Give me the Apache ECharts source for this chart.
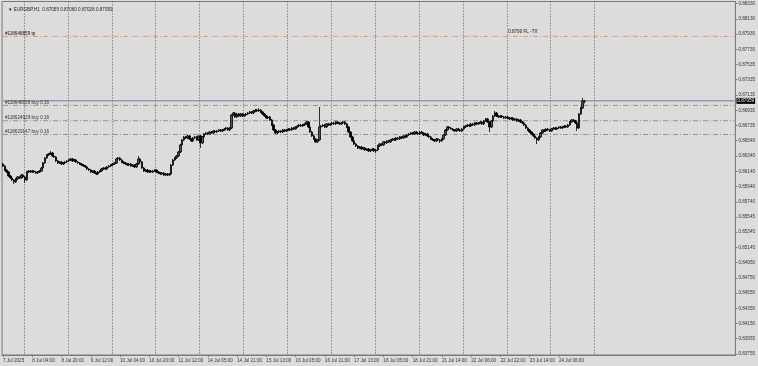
<!DOCTYPE html>
<html><head><meta charset="utf-8">
<script src="https://cdn.jsdelivr.net/npm/echarts@6/dist/echarts.min.js"></script>
<style>html,body{margin:0;padding:0;background:#dcdcdc;}#c{width:758px;height:366px;}</style>
</head><body><div id="c"></div>
<script>
const symbolTitle = "▼ EURGBP,H1  0.87055 0.87060 0.87026 0.87059";
const xTickLabels = ["7 Jul 2025","8 Jul 04:00","8 Jul 20:00","9 Jul 12:00","10 Jul 04:00","10 Jul 20:00","11 Jul 12:00","14 Jul 05:00","14 Jul 21:00","15 Jul 13:00","16 Jul 05:00","16 Jul 21:00","17 Jul 13:00","18 Jul 05:00","18 Jul 21:00","21 Jul 14:00","22 Jul 06:00","22 Jul 22:00","23 Jul 14:00","24 Jul 06:00"];
const yTickLabels = ["0.88330","0.88130","0.87930","0.87730","0.87535","0.87335","0.87135","0.86935","0.86735","0.86540","0.86340","0.86140","0.85940","0.85740","0.85545","0.85345","0.85145","0.84950","0.84750","0.84550","0.84350","0.84150","0.83955","0.83755"];
const totalSlots = 401;
const opens = [
0.86235,0.86209,0.86157,0.86131,0.86079,0.86053,0.86027,0.86001,0.86040,0.86066,
0.86053,0.86092,0.86066,0.86027,0.86131,0.86144,0.86131,0.86144,0.86131,0.86118,
0.86131,0.86144,0.86183,0.86249,0.86314,0.86353,0.86366,0.86379,0.86340,0.86327,
0.86275,0.86249,0.86262,0.86235,0.86249,0.86262,0.86275,0.86288,0.86301,0.86275,
0.86288,0.86262,0.86249,0.86235,0.86222,0.86209,0.86196,0.86170,0.86157,0.86131,
0.86144,0.86118,0.86105,0.86131,0.86144,0.86170,0.86183,0.86170,0.86196,0.86209,
0.86222,0.86235,0.86249,0.86301,0.86314,0.86288,0.86262,0.86249,0.86235,0.86222,
0.86235,0.86209,0.86222,0.86196,0.86235,0.86301,0.86262,0.86183,0.86144,0.86157,
0.86131,0.86144,0.86131,0.86144,0.86157,0.86131,0.86118,0.86105,0.86118,0.86092,
0.86105,0.86092,0.86105,0.86222,0.86288,0.86314,0.86340,0.86392,0.86483,0.86549,
0.86588,0.86575,0.86601,0.86562,0.86536,0.86575,0.86588,0.86549,0.86601,0.86510,
0.86588,0.86627,0.86640,0.86627,0.86653,0.86640,0.86666,0.86653,0.86666,0.86679,
0.86666,0.86679,0.86692,0.86705,0.86679,0.86705,0.86875,0.86901,0.86849,0.86888,
0.86862,0.86888,0.86862,0.86875,0.86888,0.86901,0.86914,0.86901,0.86927,0.86940,
0.86927,0.86940,0.86914,0.86888,0.86862,0.86836,0.86849,0.86810,0.86744,0.86679,
0.86640,0.86653,0.86666,0.86653,0.86679,0.86666,0.86679,0.86692,0.86679,0.86705,
0.86692,0.86718,0.86731,0.86744,0.86731,0.86744,0.86758,0.86784,0.86718,0.86653,
0.86601,0.86562,0.86523,0.86549,0.86718,0.86731,0.86744,0.86718,0.86758,0.86744,
0.86758,0.86771,0.86758,0.86784,0.86771,0.86758,0.86771,0.86784,0.86758,0.86718,
0.86653,0.86588,0.86536,0.86496,0.86470,0.86444,0.86457,0.86431,0.86444,0.86418,
0.86431,0.86405,0.86418,0.86431,0.86405,0.86418,0.86470,0.86496,0.86483,0.86523,
0.86510,0.86536,0.86523,0.86549,0.86562,0.86549,0.86575,0.86562,0.86588,0.86575,
0.86601,0.86588,0.86614,0.86627,0.86640,0.86627,0.86653,0.86640,0.86627,0.86653,
0.86640,0.86614,0.86627,0.86601,0.86588,0.86562,0.86549,0.86536,0.86562,0.86549,
0.86536,0.86562,0.86614,0.86679,0.86718,0.86705,0.86692,0.86679,0.86666,0.86692,
0.86679,0.86666,0.86692,0.86718,0.86731,0.86744,0.86731,0.86758,0.86744,0.86771,
0.86758,0.86771,0.86784,0.86758,0.86797,0.86823,0.86784,0.86718,0.86797,0.86862,
0.86901,0.86862,0.86849,0.86862,0.86849,0.86836,0.86849,0.86836,0.86823,0.86836,
0.86810,0.86823,0.86797,0.86810,0.86784,0.86771,0.86744,0.86705,0.86679,0.86653,
0.86627,0.86601,0.86575,0.86549,0.86588,0.86640,0.86679,0.86666,0.86692,0.86679,
0.86666,0.86692,0.86705,0.86692,0.86705,0.86718,0.86705,0.86718,0.86731,0.86718,
0.86744,0.86784,0.86810,0.86797,0.86771,0.86705,0.86888,0.86966,0.87055];
const closes = [
0.86209,0.86157,0.86131,0.86079,0.86053,0.86027,0.86001,0.86040,0.86066,0.86053,
0.86092,0.86066,0.86027,0.86131,0.86144,0.86131,0.86144,0.86131,0.86118,0.86131,
0.86144,0.86183,0.86249,0.86314,0.86353,0.86366,0.86379,0.86340,0.86327,0.86275,
0.86249,0.86262,0.86235,0.86249,0.86262,0.86275,0.86288,0.86301,0.86275,0.86288,
0.86262,0.86249,0.86235,0.86222,0.86209,0.86196,0.86170,0.86157,0.86131,0.86144,
0.86118,0.86105,0.86131,0.86144,0.86170,0.86183,0.86170,0.86196,0.86209,0.86222,
0.86235,0.86249,0.86301,0.86314,0.86288,0.86262,0.86249,0.86235,0.86222,0.86235,
0.86209,0.86222,0.86196,0.86235,0.86301,0.86262,0.86183,0.86144,0.86157,0.86131,
0.86144,0.86131,0.86144,0.86157,0.86131,0.86118,0.86105,0.86118,0.86092,0.86105,
0.86092,0.86105,0.86222,0.86288,0.86314,0.86340,0.86392,0.86483,0.86549,0.86588,
0.86575,0.86601,0.86562,0.86536,0.86575,0.86588,0.86549,0.86601,0.86510,0.86588,
0.86627,0.86640,0.86627,0.86653,0.86640,0.86666,0.86653,0.86666,0.86679,0.86666,
0.86679,0.86692,0.86705,0.86679,0.86705,0.86875,0.86901,0.86849,0.86888,0.86862,
0.86888,0.86862,0.86875,0.86888,0.86901,0.86914,0.86901,0.86927,0.86940,0.86927,
0.86940,0.86914,0.86888,0.86862,0.86836,0.86849,0.86810,0.86744,0.86679,0.86640,
0.86653,0.86666,0.86653,0.86679,0.86666,0.86679,0.86692,0.86679,0.86705,0.86692,
0.86718,0.86731,0.86744,0.86731,0.86744,0.86758,0.86784,0.86718,0.86653,0.86601,
0.86562,0.86523,0.86549,0.86718,0.86731,0.86744,0.86718,0.86758,0.86744,0.86758,
0.86771,0.86758,0.86784,0.86771,0.86758,0.86771,0.86784,0.86758,0.86718,0.86653,
0.86588,0.86536,0.86496,0.86470,0.86444,0.86457,0.86431,0.86444,0.86418,0.86431,
0.86405,0.86418,0.86431,0.86405,0.86418,0.86470,0.86496,0.86483,0.86523,0.86510,
0.86536,0.86523,0.86549,0.86562,0.86549,0.86575,0.86562,0.86588,0.86575,0.86601,
0.86588,0.86614,0.86627,0.86640,0.86627,0.86653,0.86640,0.86627,0.86653,0.86640,
0.86614,0.86627,0.86601,0.86588,0.86562,0.86549,0.86536,0.86562,0.86549,0.86536,
0.86562,0.86614,0.86679,0.86718,0.86705,0.86692,0.86679,0.86666,0.86692,0.86679,
0.86666,0.86692,0.86718,0.86731,0.86744,0.86731,0.86758,0.86744,0.86771,0.86758,
0.86771,0.86784,0.86758,0.86797,0.86823,0.86784,0.86718,0.86797,0.86862,0.86901,
0.86862,0.86849,0.86862,0.86849,0.86836,0.86849,0.86836,0.86823,0.86836,0.86810,
0.86823,0.86797,0.86810,0.86784,0.86771,0.86744,0.86705,0.86679,0.86653,0.86627,
0.86601,0.86575,0.86549,0.86588,0.86640,0.86679,0.86666,0.86692,0.86679,0.86666,
0.86692,0.86705,0.86692,0.86705,0.86718,0.86705,0.86718,0.86731,0.86718,0.86744,
0.86784,0.86810,0.86797,0.86771,0.86705,0.86888,0.86966,0.87055,0.87059];
const highs = [
0.86249,0.86222,0.86170,0.86144,0.86092,0.86066,0.86040,0.86053,0.86079,0.86079,
0.86105,0.86105,0.86079,0.86144,0.86157,0.86157,0.86157,0.86157,0.86144,0.86144,
0.86157,0.86196,0.86262,0.86327,0.86366,0.86379,0.86405,0.86392,0.86353,0.86340,
0.86288,0.86275,0.86275,0.86262,0.86275,0.86288,0.86301,0.86314,0.86314,0.86301,
0.86301,0.86275,0.86262,0.86249,0.86235,0.86222,0.86209,0.86183,0.86170,0.86157,
0.86157,0.86131,0.86144,0.86157,0.86183,0.86196,0.86196,0.86209,0.86222,0.86235,
0.86249,0.86262,0.86314,0.86327,0.86327,0.86301,0.86275,0.86262,0.86249,0.86249,
0.86249,0.86235,0.86235,0.86249,0.86340,0.86314,0.86275,0.86196,0.86170,0.86170,
0.86157,0.86157,0.86157,0.86170,0.86170,0.86144,0.86131,0.86131,0.86131,0.86118,
0.86118,0.86118,0.86235,0.86301,0.86327,0.86353,0.86405,0.86496,0.86562,0.86601,
0.86601,0.86614,0.86614,0.86575,0.86588,0.86601,0.86601,0.86614,0.86614,0.86601,
0.86640,0.86653,0.86653,0.86666,0.86666,0.86679,0.86679,0.86679,0.86692,0.86692,
0.86692,0.86705,0.86718,0.86718,0.86718,0.86888,0.86914,0.86914,0.86901,0.86901,
0.86901,0.86901,0.86888,0.86901,0.86914,0.86927,0.86927,0.86940,0.86953,0.86953,
0.86966,0.86953,0.86927,0.86901,0.86875,0.86862,0.86862,0.86823,0.86758,0.86692,
0.86666,0.86679,0.86679,0.86692,0.86692,0.86692,0.86705,0.86705,0.86718,0.86718,
0.86731,0.86744,0.86758,0.86758,0.86758,0.86771,0.86797,0.86797,0.86731,0.86666,
0.86614,0.86575,0.86562,0.86979,0.86744,0.86758,0.86758,0.86771,0.86771,0.86771,
0.86784,0.86784,0.86797,0.86797,0.86784,0.86784,0.86797,0.86797,0.86771,0.86731,
0.86666,0.86601,0.86549,0.86510,0.86483,0.86470,0.86470,0.86457,0.86457,0.86444,
0.86444,0.86431,0.86444,0.86444,0.86431,0.86483,0.86510,0.86510,0.86536,0.86536,
0.86549,0.86549,0.86562,0.86575,0.86575,0.86588,0.86588,0.86601,0.86601,0.86614,
0.86614,0.86627,0.86640,0.86653,0.86653,0.86666,0.86666,0.86653,0.86666,0.86666,
0.86653,0.86640,0.86640,0.86614,0.86601,0.86575,0.86562,0.86575,0.86575,0.86562,
0.86575,0.86627,0.86692,0.86731,0.86731,0.86718,0.86705,0.86692,0.86705,0.86705,
0.86692,0.86705,0.86731,0.86744,0.86758,0.86758,0.86771,0.86771,0.86784,0.86784,
0.86784,0.86797,0.86797,0.86810,0.86836,0.86836,0.86797,0.86810,0.86875,0.86927,
0.86914,0.86875,0.86875,0.86875,0.86862,0.86862,0.86862,0.86849,0.86849,0.86849,
0.86836,0.86836,0.86823,0.86823,0.86797,0.86784,0.86758,0.86718,0.86692,0.86666,
0.86640,0.86614,0.86588,0.86601,0.86653,0.86692,0.86692,0.86705,0.86705,0.86692,
0.86705,0.86718,0.86718,0.86718,0.86731,0.86731,0.86731,0.86744,0.86744,0.86758,
0.86797,0.86823,0.86823,0.86810,0.86784,0.86901,0.86979,0.87097,0.87060];
const lows = [
0.86196,0.86144,0.86118,0.86066,0.86040,0.86014,0.85974,0.85987,0.86027,0.86040,
0.86040,0.86053,0.85987,0.86014,0.86118,0.86118,0.86118,0.86118,0.86105,0.86105,
0.86118,0.86131,0.86170,0.86235,0.86301,0.86340,0.86353,0.86327,0.86314,0.86262,
0.86235,0.86235,0.86222,0.86222,0.86235,0.86249,0.86262,0.86275,0.86262,0.86262,
0.86249,0.86235,0.86222,0.86209,0.86196,0.86183,0.86157,0.86144,0.86118,0.86118,
0.86105,0.86092,0.86092,0.86118,0.86131,0.86157,0.86157,0.86157,0.86183,0.86196,
0.86209,0.86222,0.86235,0.86288,0.86275,0.86249,0.86235,0.86222,0.86209,0.86209,
0.86196,0.86196,0.86183,0.86183,0.86222,0.86249,0.86170,0.86131,0.86131,0.86118,
0.86118,0.86118,0.86118,0.86131,0.86118,0.86105,0.86092,0.86092,0.86079,0.86079,
0.86079,0.86079,0.86092,0.86209,0.86275,0.86301,0.86327,0.86379,0.86470,0.86536,
0.86562,0.86562,0.86549,0.86523,0.86523,0.86562,0.86536,0.86536,0.86444,0.86496,
0.86575,0.86614,0.86614,0.86614,0.86627,0.86627,0.86640,0.86640,0.86653,0.86653,
0.86653,0.86666,0.86679,0.86666,0.86666,0.86692,0.86862,0.86836,0.86836,0.86849,
0.86849,0.86849,0.86849,0.86862,0.86875,0.86888,0.86888,0.86888,0.86914,0.86914,
0.86914,0.86901,0.86875,0.86849,0.86823,0.86823,0.86797,0.86731,0.86666,0.86627,
0.86627,0.86640,0.86640,0.86640,0.86653,0.86653,0.86666,0.86666,0.86666,0.86679,
0.86679,0.86705,0.86718,0.86718,0.86718,0.86731,0.86744,0.86705,0.86640,0.86588,
0.86549,0.86510,0.86510,0.86536,0.86705,0.86718,0.86705,0.86705,0.86731,0.86731,
0.86744,0.86744,0.86744,0.86758,0.86744,0.86744,0.86758,0.86744,0.86705,0.86640,
0.86575,0.86523,0.86483,0.86457,0.86431,0.86431,0.86418,0.86418,0.86405,0.86405,
0.86392,0.86392,0.86405,0.86392,0.86379,0.86405,0.86457,0.86470,0.86470,0.86496,
0.86496,0.86510,0.86510,0.86536,0.86536,0.86536,0.86549,0.86549,0.86562,0.86562,
0.86575,0.86575,0.86601,0.86614,0.86614,0.86614,0.86627,0.86614,0.86614,0.86627,
0.86601,0.86601,0.86588,0.86575,0.86549,0.86536,0.86523,0.86523,0.86536,0.86510,
0.86523,0.86549,0.86601,0.86666,0.86692,0.86679,0.86666,0.86653,0.86653,0.86666,
0.86653,0.86653,0.86679,0.86705,0.86718,0.86718,0.86718,0.86731,0.86731,0.86744,
0.86744,0.86758,0.86744,0.86744,0.86784,0.86771,0.86653,0.86705,0.86784,0.86849,
0.86849,0.86836,0.86836,0.86836,0.86823,0.86823,0.86823,0.86810,0.86810,0.86797,
0.86797,0.86784,0.86784,0.86771,0.86758,0.86731,0.86692,0.86666,0.86640,0.86614,
0.86588,0.86562,0.86496,0.86536,0.86575,0.86627,0.86653,0.86653,0.86666,0.86653,
0.86653,0.86679,0.86679,0.86679,0.86692,0.86692,0.86692,0.86705,0.86705,0.86705,
0.86731,0.86771,0.86784,0.86758,0.86666,0.86692,0.86875,0.86953,0.87026];
const bidPrice = 0.87059;
const takeProfit = 0.8790;
const tpLabel = "#118648859 tp";
const tpNote = "0.8790 FL -TX";
const orderPrices = [0.87000, 0.86800, 0.86620];
const orderLabels = ["#118648859 buy 0.16", "#118624929 buy 0.16", "#118629147 buy 0.16"];
const lastGridSlot = 324;
const lastLabelSlot = 304;

const categories = Array.from({length: totalSlots}, (_, i) => i);
const candleData = opens.map((o, i) => [o, closes[i], lows[i], highs[i]]);
const yTickValues = yTickLabels.map(Number);
const FONT = "Liberation Sans";
const FS = 4.6;
const DASHDOT = [5, 2, 1, 2];

function levelSeries(name, price, color, type, label, labelOpts) {
  return {
    name: name, type: 'line', data: [[0, price], [totalSlots - 1, price]],
    symbol: 'none', silent: true, z: 1,
    lineStyle: {color: color, type: type, width: 1},
    markPoint: label ? {symbol: 'rect', symbolSize: 0.1, itemStyle: {color: 'transparent'}, silent: true,
      data: [{coord: [labelOpts.at, price], label: Object.assign({show: true, position: 'top', formatter: label, fontSize: FS, fontFamily: FONT, color: '#222'}, labelOpts.style || {})}]} : undefined
  };
}

const levels = [];
levels.push(levelSeries('tp', takeProfit, '#e8956a', DASHDOT, tpLabel, {at: 0, style: {align: 'left', distance: 0, offset: [2, 0], color: '#111'}}));
levels.push(levelSeries('tpnote', takeProfit, 'transparent', 'solid', tpNote, {at: 285, style: {align: 'left', distance: 2, offset: [-16, 0]}}));
orderPrices.forEach((p, k) => levels.push(levelSeries('order' + k, p, '#76a876', DASHDOT, orderLabels[k], {at: 0, style: {align: 'left', distance: 0, offset: [2, 0], color: '#333'}})));
levels.push({
  name: 'bid', type: 'line', data: [[0, bidPrice], [totalSlots - 1, bidPrice]], symbol: 'none', silent: true, z: 1,
  lineStyle: {color: '#7472aa', width: 1},
  endLabel: {show: true, formatter: bidPrice.toFixed(5), distance: 2, color: '#fff', backgroundColor: '#000', padding: [1, 1, 0, 1], fontSize: FS, fontFamily: FONT}
});

const chart = echarts.init(document.getElementById('c'), null, {renderer: 'canvas'});
chart.setOption({
  backgroundColor: '#dcdcdc',
  animation: false,
  title: {text: symbolTitle, left: 3, top: 2, textStyle: {fontSize: FS, fontWeight: 'normal', color: '#222', fontFamily: FONT}},
  grid: {left: 0.5, right: 19, top: 1.5, bottom: 11, show: true, borderColor: '#7a7a7a', borderWidth: 1, backgroundColor: 'transparent'},
  xAxis: {
    type: 'category', data: categories, boundaryGap: true,
    axisLine: {show: true, lineStyle: {color: '#7a7a7a'}},
    axisTick: {show: true, alignWithLabel: true, interval: (idx) => idx % 16 === 0 && idx <= lastLabelSlot, length: 2, lineStyle: {color: '#7a7a7a'}},
    axisLabel: {interval: (idx) => idx % 16 === 0 && idx <= lastLabelSlot, align: 'left', margin: 3, fontSize: FS, color: '#333', fontFamily: FONT,
      formatter: (v, idx) => xTickLabels[Math.round(idx / 16)] || ''},
    splitLine: {show: true, interval: (idx) => idx >= 12 && idx <= lastGridSlot && (idx - 12) % 24 === 0,
      lineStyle: {color: '#5a5a5a', type: [1, 2], width: 1}}
  },
  yAxis: {
    type: 'value', position: 'right', min: 0.83742, max: 0.88356, scale: true,
    axisLine: {show: true, lineStyle: {color: '#7a7a7a'}},
    axisTick: {show: true, length: 2, customValues: yTickValues, lineStyle: {color: '#7a7a7a'}},
    axisLabel: {customValues: yTickValues, margin: 3, fontSize: FS, color: '#333', fontFamily: FONT,
      formatter: (v) => { const k = yTickValues.findIndex(t => Math.abs(t - v) < 1e-7); return k >= 0 ? yTickLabels[k] : ''; }},
    splitLine: {show: false}
  },
  series: levels.concat([{
    type: 'candlestick', data: candleData, barWidth: 2, z: 3,
    itemStyle: {color: '#555555', color0: '#000000', borderColor: '#000000', borderColor0: '#000000', borderWidth: 0.8}
  }])
});
</script></body></html>
